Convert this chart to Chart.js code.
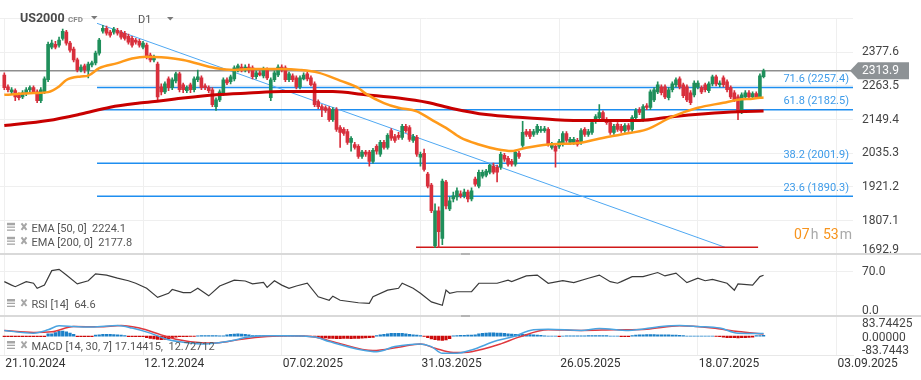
<!DOCTYPE html>
<html><head><meta charset="utf-8">
<script src="https://cdn.jsdelivr.net/npm/chart.js@4.4.1/dist/chart.umd.min.js"></script>
<style>
html,body{margin:0;padding:0;background:#fff;}
#wrap{position:relative;width:921px;height:380px;overflow:hidden;font-family:Roboto,"Noto Sans",sans-serif;}
canvas{position:absolute;left:0;}
.sep{position:absolute;left:0;width:921px;height:2px;background:#d9d9d9;}
.handle{position:absolute;left:461px;width:9px;height:2px;background:#b4b4b4;}
</style></head><body>
<div id="wrap">
<canvas id="cMain" width="921" height="256" style="top:0px"></canvas>
<canvas id="cRsi" width="921" height="63" style="top:253px"></canvas>
<canvas id="cMacd" width="921" height="65" style="top:315px"></canvas>
<div class="sep" style="top:252.5px"></div>
<div class="sep" style="top:315px"></div>
<div class="handle" style="top:252.5px"></div>
<div class="handle" style="top:315px"></div>
</div>
<script>
// ---------- DATA ----------
const xTickIdx = [0, 38, 76, 114, 152, 190, 228];
const xTickLabels = ['21.10.2024','12.12.2024','07.02.2025','31.03.2025','26.05.2025','18.07.2025','03.09.2025'];
const priceTicks = [2377.6, 2263.5, 2149.4, 2035.3, 1921.2, 1807.1, 1692.9];
const priceTop = 2491.7;

const open = [2300,2260,2243,2247,2233,2226,2237,2250,2257,2243,
2213,2243,2284,2394,2404,2401,2424,2445,2408,2388,
2351,2317,2331,2317,2334,2341,2374,2448,2458,2445,
2445,2451,2445,2441,2431,2424,2418,2414,2394,2401,
2367,2351,2337,2260,2243,2287,2257,2280,2304,2267,
2247,2267,2250,2284,2290,2263,2257,2250,2193,2216,
2237,2284,2277,2287,2317,2327,2317,2327,2324,2294,
2307,2297,2317,2223,2284,2300,2327,2324,2284,2297,
2290,2260,2287,2304,2290,2270,2210,2193,2190,2186,
2149,2183,2122,2116,2109,2072,2065,2059,2025,2039,
2039,2008,2059,2032,2072,2055,2112,2092,2096,2089,
2126,2122,2079,2089,2022,2035,1965,1928,1723,1841,
1747,1938,1847,1881,1888,1898,1891,1904,1881,1948,
1924,1958,1961,1971,1992,1988,1988,2028,2018,2008,
1998,2035,2062,2109,2109,2099,2106,2112,2112,2116,
2055,2059,2059,2065,2102,2072,2072,2079,2072,2116,
2099,2106,2143,2156,2173,2149,2139,2106,2133,2126,
2112,2129,2116,2156,2183,2149,2196,2190,2216,2243,
2260,2260,2223,2250,2267,2287,2267,2260,2240,2233,
2260,2257,2267,2247,2270,2294,2267,2290,2277,2257,
2240,2226,2176,2226,2240,2226,2237,2226,2294];
const high = [2307,2267,2257,2253,2240,2247,2257,2263,2263,2250,
2257,2294,2411,2418,2414,2428,2455,2451,2414,2394,
2357,2334,2337,2344,2347,2381,2424,2468,2465,2451,
2461,2458,2451,2448,2438,2431,2424,2421,2414,2408,
2374,2367,2344,2270,2277,2294,2290,2310,2310,2273,
2263,2273,2294,2317,2297,2270,2263,2257,2223,2250,
2290,2290,2300,2331,2337,2337,2334,2337,2331,2314,
2314,2327,2324,2290,2314,2334,2334,2331,2310,2304,
2297,2297,2307,2310,2297,2277,2216,2200,2196,2193,
2190,2190,2129,2122,2116,2092,2072,2065,2045,2045,
2045,2052,2065,2079,2079,2102,2119,2099,2106,2133,
2133,2129,2099,2096,2039,2049,1971,1934,1864,1854,
1948,1944,1888,1904,1918,1908,1914,1911,1918,1955,
1978,1978,1981,1998,2002,1995,2039,2035,2025,2015,
2045,2042,2143,2116,2116,2116,2133,2126,2126,2122,
2072,2065,2082,2109,2109,2089,2089,2086,2119,2122,
2116,2146,2166,2200,2179,2156,2146,2133,2139,2133,
2136,2136,2163,2186,2190,2200,2203,2250,2257,2277,
2267,2267,2257,2277,2290,2294,2273,2267,2247,2280,
2280,2263,2273,2277,2300,2300,2280,2297,2284,2263,
2247,2233,2240,2247,2247,2243,2243,2304,2320];
const low = [2250,2243,2237,2213,2216,2220,2230,2243,2237,2206,
2206,2237,2277,2388,2388,2394,2418,2401,2377,2344,
2310,2310,2307,2290,2327,2334,2367,2441,2435,2428,
2438,2435,2421,2418,2404,2394,2404,2394,2388,2354,
2344,2344,2216,2233,2237,2247,2250,2273,2243,2240,
2240,2240,2243,2277,2250,2250,2240,2193,2180,2210,
2230,2267,2270,2280,2310,2310,2310,2307,2287,2287,
2297,2290,2284,2213,2277,2294,2310,2277,2277,2277,
2253,2253,2283,2280,2263,2193,2186,2159,2173,2143,
2143,2109,2055,2096,2065,2042,2049,2018,2018,2025,
1992,2002,2032,2025,2049,2049,2079,2072,2082,2082,
2106,2075,2072,2025,1992,1975,1918,1834,1716,1716,
1726,1847,1841,1871,1877,1884,1884,1871,1874,1924,
1918,1951,1955,1965,1965,1938,1981,2008,1992,1992,
1992,2018,2055,2092,2085,2092,2099,2106,2106,2059,
2049,1988,2052,2059,2072,2065,2065,2059,2065,2092,
2092,2099,2136,2149,2143,2133,2099,2099,2109,2106,
2106,2109,2109,2149,2166,2143,2183,2183,2210,2237,
2233,2220,2216,2243,2260,2253,2223,2210,2200,2226,
2253,2237,2243,2240,2263,2263,2260,2260,2243,2220,
2210,2149,2169,2220,2220,2220,2220,2220,2290];
const close = [2257,2250,2250,2226,2223,2240,2250,2257,2243,2213,
2250,2287,2404,2408,2394,2418,2448,2408,2384,2351,
2317,2327,2317,2337,2341,2374,2418,2458,2441,2435,
2455,2441,2428,2424,2411,2401,2411,2401,2408,2361,
2351,2361,2226,2243,2270,2257,2284,2304,2250,2250,
2257,2250,2287,2294,2257,2257,2247,2200,2216,2243,
2284,2273,2294,2324,2331,2317,2327,2317,2294,2307,
2300,2320,2290,2284,2307,2327,2317,2284,2304,2284,
2260,2290,2300,2287,2267,2200,2193,2183,2180,2149,
2183,2116,2106,2102,2072,2086,2055,2025,2039,2032,
2008,2045,2042,2072,2055,2096,2086,2079,2089,2126,
2112,2082,2092,2032,2032,1981,1924,1841,1841,1770,
1941,1857,1874,1891,1908,1891,1904,1881,1908,1931,
1971,1971,1975,1995,1971,1971,2032,2015,1998,1998,
2039,2025,2106,2099,2092,2109,2126,2116,2119,2065,
2065,2042,2075,2102,2079,2082,2082,2065,2112,2099,
2109,2139,2159,2173,2149,2139,2106,2126,2116,2112,
2129,2116,2156,2180,2173,2193,2190,2243,2250,2267,
2240,2226,2250,2270,2284,2260,2230,2216,2206,2273,
2273,2243,2250,2270,2294,2270,2273,2267,2250,2226,
2216,2176,2233,2240,2226,2237,2226,2297,2313.9];

const ema50Idx = [0,8,12,15,17,21,23,26,31,35,39,43,49,58,63,67,76,81,86,92,97,99,104,108,113,117,121,125,130,135,139,143,149,158,162,169,176,183,190,197,201,205,208];
const ema50Val = [2233,2239,2242,2261,2283,2295,2298,2323,2340,2356,2362,2360,2351,2323,2317,2320,2320,2317,2308,2281,2256,2237,2205,2189,2177,2149,2121,2088,2065,2049,2043,2054,2065,2071,2082,2099,2116,2159,2189,2206,2216,2220,2224.1];
const ema200Idx = [0,12,21,29,37,43,49,58,67,76,90,99,108,116,123,132,142,151,160,174,183,192,201,208];
const ema200Val = [2129,2146,2168,2191,2205,2213,2222,2233,2239,2244,2244,2233,2222,2207,2186,2166,2156,2149,2146,2146,2159,2169,2176,2177.8];

const fibLevels = ['71.6','61.8','38.2','23.6'];
const fibValues = [2257.4, 2182.5, 2001.9, 1890.3];
const fibStartIdx = 25.4;
const trendIdx = [25.4, 197.5];
const trendVal = [2474.7, 1717];
const lowLineIdx = [112.8, 206.5];
const lowLineVal = 1717;
const lastPrice = 2313.9;

const rsiIdx = [0,2,3,6,8,9,11,13,15,17,20,23,25,28,31,34,36,39,42,45,46,49,51,53,56,59,63,66,68,71,72,74,76,78,80,83,86,89,90,92,97,100,101,105,108,109,112,114,117,120,121,122,124,128,130,135,138,139,143,146,149,153,156,160,163,166,168,169,172,175,179,181,184,187,190,192,194,198,200,201,205,207,208];
const rsiVal = [54.5,49,46.5,54.5,52,44,49,72,74,65,51,56,67,65,60,56,52,44,29.5,36,42,37,37,44,32,47.6,57,55.6,51,53.5,45.5,56,49,44,47.6,52,30.5,25,31.5,25,21,20,30.5,41,44,52,44,36,22.4,17,41,36,38.5,38.5,52,52,57,54.5,63.6,65,52,56,53,60,65,54.5,52,54.5,62.5,62.5,69,63.6,68,53,60,56,58,52,41,51,49,62.5,64.6];
const rsiTicks = [70, 0];
const rsiTickLabels = ['70.0', '0.0'];

const macdIdx = [0,8,12,15,19,24,31,35,40,45,50,55,61,67,72,77,85,89,98,102,107,114,117,120,124,128,135,139,145,149,158,163,171,180,185,190,196,201,208];
const macdVal = [35,19,40,65,61,57,67,51,19,-23,-41,-49,-34,-6,2,2,-6,-34,-87,-98,-66,-49,-66,-108,-108,-87,-28,-6,40,44,36,48,36,61,67,61,51,19,17.14415];
const signalIdx = [0,8,13,19,26,32,37,43,47,54,58,65,72,78,85,91,101,108,114,118,123,128,136,141,149,158,167,176,185,194,201,208];
const signalVal = [35,23,27,61,59,67,51,8,-19,-41,-43,-19,-3,2,-6,-41,-91,-70,-49,-76,-104,-98,-49,-6,40,36,40,44,65,51,29,12.72712];
const histVal = [-3,-3,-3,-3,-3,-3,-3,-3,-3,-3,-3,-3,
15,15,
22,30,32,28,20,
12,
-3,-3,-3,-3,-3,
6,9,11,12,11,10,8,6,4,
-3,-3,-3,-3,-3,
-10,-14,-17,
-21,-22,-20,-17,-12,
-6,-4,-3,-3,-2,-2,
2,3,3,4,3,3,2,2,
8,11,13,14,13,11,8,
4,3,3,3,2,3,3,2,2,
1,1,1,1,1,1,0,-1,-2,
-5,-9,-12,-14,-15,-16,-16,-15,-15,-16,-15,-14,-13,-12,-10,-8,
4,8,12,15,17,18,18,17,15,12,9,6,
3,-2,
-10,-18,-23,-26,-27,-24,-16,
2,4,5,5,6,7,9,
14,18,20,21,21,20,19,17,15,
13,12,12,11,11,10,9,7,5,
2,1,0,0,
-3,
1,2,2,2,2,2,2,
3,4,4,4,4,3,
1,1,0,
-3,-4,-3,
4,6,8,9,10,10,10,9,9,8,8,7,6,5,3,
1,1,1,1,0,1,1,0,-1,
-4,-7,-9,-10,-10,-11,-10,-9,-8,-6,
3,4,5];
const macdTicks = [83.74425, 0, -83.7443];
const macdTickLabels = ['83.74425', '0.00000', '-83.7443'];

const legendMain = ['EMA [50, 0]  ' + '2224.1', 'EMA [200, 0]  ' + '2177.8'];
const legendRsi = 'RSI [14]  64.6';
const legendMacd = 'MACD [14, 30, 7] 17.14415,  12.72712';

// ---------- STYLE ----------
const GREEN = '#1f8f5b', RED = '#d82f3c';
const X_MIN = -1.18, X_MAX = 232.5;
const FONT = 'Roboto, "Noto Sans", sans-serif';
const GRID = '#efefef';

function pts(ix, vals) { return ix.map((x, k) => ({x: x, y: vals[k]})); }
function xScaleOpts(extra) {
  return Object.assign({
    type: 'linear', min: X_MIN, max: X_MAX, display: true, offset: false,
    ticks: {display: false}, grid: {color: GRID, drawTicks: false, offset: false}, border: {display: false},
    afterBuildTicks: s => { s.ticks = xTickIdx.map(v => ({value: v})); }
  }, extra || {});
}
function drawLegend(ctx, y, text) {
  ctx.save();
  ctx.fillStyle = '#a6a6a6';
  ctx.fillRect(7, y - 6.5, 8, 2.5);
  ctx.fillRect(7, y - 2.8, 8, 1.3);
  ctx.fillRect(7, y + 0.2, 8, 1.3);
  ctx.strokeStyle = '#a6a6a6'; ctx.lineWidth = 2;
  ctx.beginPath();
  ctx.moveTo(21.5, y - 6); ctx.lineTo(26.5, y + 0.5);
  ctx.moveTo(26.5, y - 6); ctx.lineTo(21.5, y + 0.5);
  ctx.stroke();
  ctx.fillStyle = '#555'; ctx.font = '11px ' + FONT;
  ctx.textBaseline = 'middle'; ctx.textAlign = 'left';
  ctx.fillText(text, 31.5, y);
  ctx.restore();
}
const baseOpts = {
  responsive: false, animation: false, devicePixelRatio: 1, events: [],
  plugins: {legend: {display: false}, tooltip: {enabled: false}}
};

// ---------- MAIN CHART ----------
const bodyColors = close.map((c, i) => c >= open[i] ? GREEN : RED);
const mainPlugin = {
  id: 'mainText',
  afterDraw(chart) {
    const {ctx, chartArea} = chart;
    const y = chart.scales.y;
    ctx.save();
    ctx.font = '12px ' + FONT; ctx.textBaseline = 'middle'; ctx.textAlign = 'left';
    ctx.fillStyle = '#444';
    priceTicks.forEach(v => {
      let py = y.getPixelForValue(v);
      py = Math.min(py, chartArea.bottom - 4.5);
      ctx.fillText(v.toFixed(1), 862, py);
    });
    // price tag
    const ty = y.getPixelForValue(lastPrice);
    ctx.fillStyle = '#8d9295';
    ctx.beginPath();
    ctx.moveTo(850, ty); ctx.lineTo(858, ty - 8.5); ctx.lineTo(909, ty - 8.5);
    ctx.lineTo(909, ty + 8.5); ctx.lineTo(858, ty + 8.5); ctx.closePath(); ctx.fill();
    ctx.fillStyle = '#fff';
    ctx.fillText(lastPrice.toFixed(1), 862, ty + 0.5);
    // fib labels
    ctx.font = '11px ' + FONT; ctx.textAlign = 'right'; ctx.fillStyle = '#3d9be9';
    fibLevels.forEach((lv, k) => {
      const fy = y.getPixelForValue(fibValues[k]);
      ctx.fillText(lv + ' (' + fibValues[k].toFixed(1) + ')', 849, fy - 8);
    });
    // countdown
    ctx.textAlign = 'left'; ctx.font = '14px ' + FONT;
    let cx = 794;
    [['07', '#f7941d'], ['h', '#a9a9a9'], [' 53', '#f7941d'], ['m', '#a9a9a9']].forEach(([t, c]) => {
      ctx.fillStyle = c; ctx.fillText(t, cx, 235); cx += ctx.measureText(t).width + 1;
    });
    // header
    ctx.font = 'bold 12.5px ' + FONT; ctx.fillStyle = '#4a4a4a';
    ctx.fillText('US2000', 20, 18.5);
    ctx.font = 'bold 8px ' + FONT; ctx.fillStyle = '#8a8a8a';
    ctx.fillText('CFD', 68, 19.5);
    ctx.font = '11px ' + FONT; ctx.fillStyle = '#555';
    ctx.fillText('D1', 138, 20.5);
    ctx.fillStyle = '#7a7a7a';
    [[91, 16], [167, 17]].forEach(([ax, ay]) => {
      ctx.beginPath(); ctx.moveTo(ax, ay); ctx.lineTo(ax + 6.5, ay); ctx.lineTo(ax + 3.25, ay + 3.5); ctx.closePath(); ctx.fill();
    });
    ctx.restore();
    drawLegend(ctx, 229.3, legendMain[0]);
    drawLegend(ctx, 243.3, legendMain[1]);
  }
};
const lineDs = (data, color, width, order, extra) => Object.assign({
  type: 'line', data: data, borderColor: color, borderWidth: width, pointRadius: 0,
  fill: false, tension: 0, order: order
}, extra || {});

new Chart(document.getElementById('cMain'), {
  type: 'bar',
  data: {datasets: [
    lineDs([{x: X_MIN, y: lastPrice}, {x: X_MAX, y: lastPrice}], '#8e8e8e', 1.5, 20),
    ...fibValues.map(v => lineDs([{x: fibStartIdx, y: v}, {x: X_MAX, y: v}], '#1e8ef0', 1.5, 19)),
    lineDs(pts(trendIdx, trendVal), '#4fa8f2', 1, 18),
    lineDs([{x: lowLineIdx[0], y: lowLineVal}, {x: lowLineIdx[1], y: lowLineVal}], '#d01818', 1.5, 17),
    {type: 'bar', data: low.map((l, i) => ({x: i, y: [l, high[i]]})), backgroundColor: bodyColors,
      barThickness: 1, grouped: false, order: 6},
    {type: 'bar', data: open.map((o, i) => ({x: i, y: [o, close[i]]})), backgroundColor: bodyColors,
      barThickness: 3, minBarLength: 1, grouped: false, order: 5},
    lineDs(pts(ema200Idx, ema200Val), '#c80000', 3, 2, {cubicInterpolationMode: 'monotone'}),
    lineDs(pts(ema50Idx, ema50Val), '#ff9a1a', 2.5, 1, {cubicInterpolationMode: 'monotone'})
  ]},
  options: Object.assign({}, baseOpts, {
    layout: {padding: {top: 18.3, right: 68, bottom: 1.5, left: 0}},
    scales: {
      x: xScaleOpts(),
      y: {type: 'linear', position: 'right', min: priceTicks[priceTicks.length - 1], max: priceTop,
        ticks: {display: false}, grid: {color: GRID, drawTicks: false}, border: {display: false},
        afterBuildTicks: s => { s.ticks = priceTicks.concat([priceTop]).map(v => ({value: v})); }}
    }
  }),
  plugins: [mainPlugin]
});

// ---------- RSI CHART ----------
new Chart(document.getElementById('cRsi'), {
  type: 'line',
  data: {datasets: [lineDs(pts(rsiIdx, rsiVal), '#3a3a3a', 1.2, 1)]},
  options: Object.assign({}, baseOpts, {
    layout: {padding: {top: 0, right: 68, bottom: 0, left: 0}},
    scales: {
      x: xScaleOpts(),
      y: {type: 'linear', position: 'right', min: 0, max: 100,
        ticks: {display: false}, grid: {color: GRID, drawTicks: false}, border: {display: false},
        afterBuildTicks: s => { s.ticks = [{value: 70}]; }}
    }
  }),
  plugins: [{
    id: 'rsiText',
    afterDraw(chart) {
      const {ctx, chartArea} = chart; const y = chart.scales.y;
      ctx.save(); ctx.font = '12px ' + FONT; ctx.fillStyle = '#444';
      ctx.textBaseline = 'middle'; ctx.textAlign = 'left';
      rsiTicks.forEach((v, k) => {
        const py = Math.min(y.getPixelForValue(v), chartArea.bottom - 5);
        ctx.fillText(rsiTickLabels[k], 862, py);
      });
      ctx.restore();
      drawLegend(ctx, 52.5, legendRsi);
    }
  }]
});

// ---------- MACD CHART ----------
new Chart(document.getElementById('cMacd'), {
  type: 'bar',
  data: {datasets: [
    {type: 'bar', data: histVal.map((v, i) => ({x: i, y: v})),
      backgroundColor: histVal.map(v => v >= 0 ? '#1c80c8' : '#cc0a0a'),
      barThickness: 2.6, grouped: false, order: 5},
    lineDs(pts(signalIdx, signalVal), '#e0393e', 1.5, 2, {cubicInterpolationMode: 'monotone'}),
    lineDs(pts(macdIdx, macdVal), '#4aa3e0', 1.5, 1, {cubicInterpolationMode: 'monotone'})
  ]},
  options: Object.assign({}, baseOpts, {
    layout: {padding: {top: 0.7, right: 68, bottom: 25, left: 0}},
    scales: {
      x: xScaleOpts({border: {display: true, color: '#e8e8e8', width: 1}}),
      y: {type: 'linear', position: 'right', min: -119, max: 129,
        ticks: {display: false}, grid: {display: false, drawTicks: false}, border: {display: false}}
    }
  }),
  plugins: [{
    id: 'macdText',
    afterDraw(chart) {
      const {ctx, chartArea} = chart; const y = chart.scales.y, x = chart.scales.x;
      ctx.save(); ctx.font = '12px ' + FONT; ctx.fillStyle = '#444';
      ctx.textBaseline = 'middle'; ctx.textAlign = 'left';
      macdTicks.forEach((v, k) => {
        let py = y.getPixelForValue(v) + 1.5;
        py = Math.max(chartArea.top + 5, Math.min(py, chartArea.bottom - 4));
        ctx.fillText(macdTickLabels[k], 862, py);
      });
      ctx.fillStyle = '#333';
      xTickIdx.forEach((v, k) => {
        ctx.fillText(xTickLabels[k], x.getPixelForValue(v) + 1, chartArea.bottom + 8.5);
      });
      ctx.restore();
      drawLegend(ctx, 32.5, legendMacd);
    }
  }]
});
</script>
</body></html>
